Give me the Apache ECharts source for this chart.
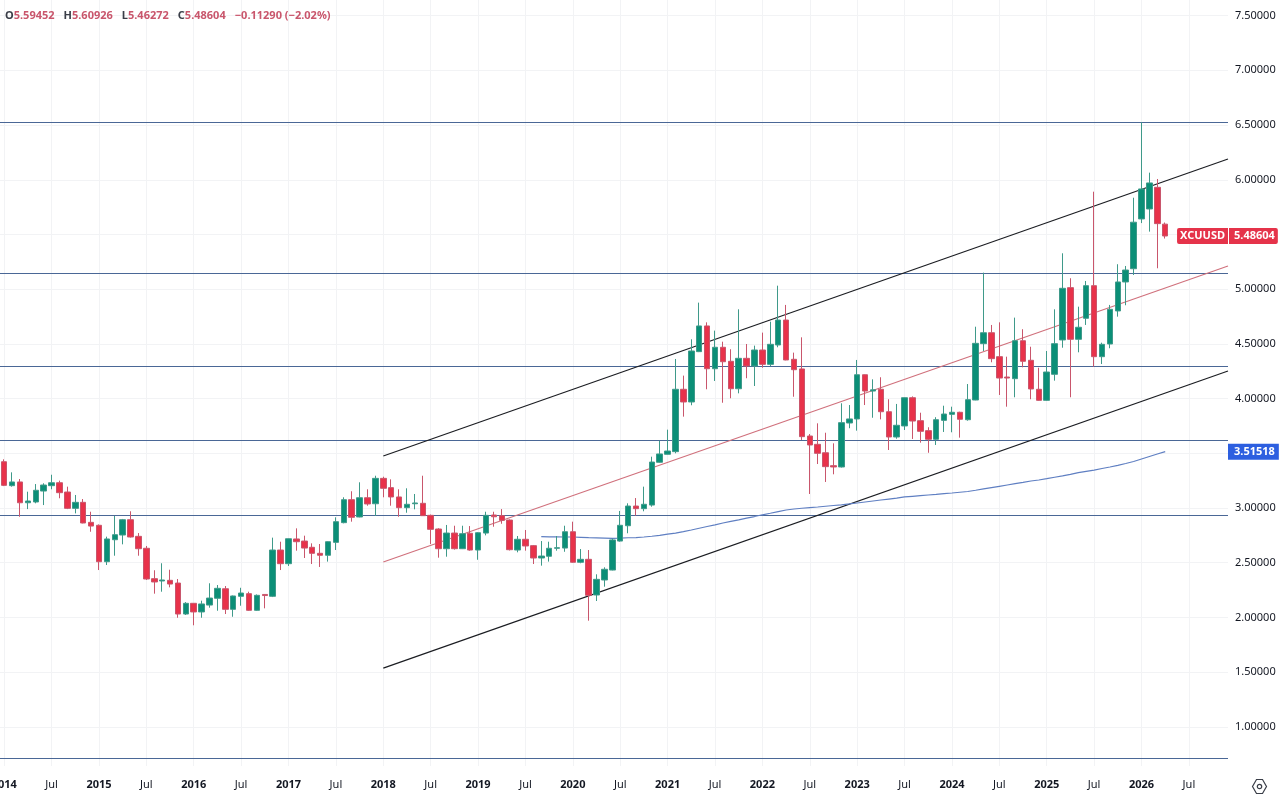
<!DOCTYPE html>
<html lang="en">
<head>
    <meta charset="UTF-8">
    <title>XCUUSD monthly</title>
    <script src="https://cdn.jsdelivr.net/npm/echarts@6/dist/echarts.min.js"></script>
    <style>
        html, body { margin: 0; padding: 0; background: #fff; }
        #chart { width: 1280px; height: 796px; }
    </style>
</head>
<body>
    <div id="chart"></div>

    <script>
        // monthly candles, Jan 2014 .. Apr 2026, one line per year
        const opens = [
            3.423,3.204,3.238,3.048,3.055,3.155,3.204,3.231,3.146,2.997,3.052,2.869,
            2.842,2.509,2.71,2.753,2.893,2.741,2.632,2.354,2.333,2.339,2.314,2.031,
            2.129,2.05,2.113,2.175,2.262,2.074,2.193,2.217,2.065,2.21,2.193,2.616,
            2.491,2.717,2.698,2.641,2.586,2.568,2.686,2.866,3.076,2.918,3.094,3.039,
            3.271,3.186,3.101,3.003,3.039,3.043,2.933,2.808,2.628,2.771,2.628,2.769,
            2.616,2.771,2.936,2.93,2.89,2.616,2.714,2.656,2.543,2.559,2.632,2.634,
            2.783,2.504,2.531,2.205,2.342,2.433,2.698,2.838,3.018,2.994,3.027,3.418,
            3.491,3.515,4.085,3.969,4.429,4.664,4.273,4.469,4.341,4.09,4.368,4.298,
            4.444,4.313,4.49,4.718,4.359,4.271,3.658,3.582,3.505,3.387,3.375,3.777,
            3.814,4.218,4.069,4.085,3.88,3.649,3.75,4.008,3.798,3.707,3.628,3.801,
            3.856,3.875,3.807,3.987,4.502,4.602,4.383,4.197,4.182,4.529,4.35,4.085,
            3.984,4.222,4.536,5.014,4.542,4.734,5.032,4.383,4.499,4.801,5.066,5.187,
            5.642,5.733,5.931,5.59452
        ];
        const closes = [
            3.207,3.238,3.048,3.064,3.162,3.21,3.231,3.14,2.997,3.052,2.863,2.835,
            2.509,2.717,2.756,2.893,2.735,2.628,2.351,2.324,2.342,2.305,2.031,2.129,
            2.05,2.123,2.177,2.266,2.074,2.196,2.223,2.065,2.202,2.2,2.616,2.491,
            2.719,2.692,2.634,2.586,2.568,2.692,2.875,3.076,2.915,3.094,3.037,3.271,
            3.18,3.101,3.003,3.034,3.046,2.93,2.805,2.628,2.771,2.628,2.765,2.616,
            2.774,2.933,2.92,2.887,2.619,2.714,2.653,2.543,2.561,2.632,2.637,2.783,
            2.504,2.531,2.202,2.348,2.44,2.708,2.842,3.018,2.994,3.034,3.42,3.494,
            3.521,4.085,3.969,4.435,4.664,4.273,4.469,4.337,4.09,4.368,4.298,4.444,
            4.313,4.496,4.718,4.353,4.264,3.652,3.576,3.5,3.378,3.375,3.78,3.814,
            4.218,4.069,4.08,3.88,3.649,3.756,4.008,3.795,3.701,3.628,3.807,3.859,
            3.875,3.811,3.99,4.505,4.602,4.365,4.188,4.188,4.529,4.341,4.088,3.984,
            4.243,4.502,5.008,4.542,4.652,5.032,4.383,4.496,4.816,5.066,5.175,5.612,
            5.916,5.971,5.599,5.48604
        ];
        const highs = [
            3.445,3.326,3.265,3.149,3.219,3.226,3.304,3.25,3.195,3.119,3.082,2.966,
            2.85,2.738,2.927,2.9,2.97,2.771,2.653,2.431,2.495,2.436,2.351,2.14,
            2.13,2.153,2.312,2.296,2.287,2.2,2.271,2.235,2.21,2.21,2.729,2.692,
            2.72,2.814,2.747,2.677,2.671,2.695,2.915,3.098,3.153,3.235,3.171,3.295,
            3.286,3.262,3.171,3.18,3.128,3.295,2.94,2.815,2.845,2.838,2.838,2.835,
            2.78,2.966,2.966,2.99,2.896,2.744,2.799,2.662,2.698,2.692,2.744,2.838,
            2.875,2.625,2.616,2.394,2.458,2.72,2.973,3.043,3.091,3.195,3.469,3.615,
            3.716,4.362,4.21,4.542,4.877,4.697,4.621,4.52,4.451,4.816,4.499,4.484,
            4.603,4.703,5.032,4.856,4.42,4.56,3.676,3.774,3.688,3.591,3.957,3.941,
            4.353,4.22,4.176,4.195,3.994,3.951,4.01,4.02,3.871,3.738,3.83,3.935,
            3.926,3.88,4.133,4.657,5.151,4.673,4.697,4.383,4.74,4.634,4.474,4.282,
            4.435,4.816,5.328,5.1,4.84,5.075,5.891,4.511,4.856,5.228,5.212,5.836,
            6.526,6.065,6.007,5.60926
        ];
        const lows = [
            3.2,3.195,2.92,2.99,3.043,3.027,3.171,3.089,2.99,2.951,2.86,2.783,
            2.433,2.479,2.564,2.668,2.73,2.564,2.342,2.217,2.235,2.275,1.997,2.022,
            1.928,1.997,2.089,2.061,2.031,2.006,2.107,2.06,2.06,2.083,2.186,2.433,
            2.47,2.61,2.543,2.488,2.461,2.51,2.616,2.86,2.875,2.915,3.021,2.927,
            3.098,3.021,2.92,2.957,2.988,2.927,2.671,2.546,2.555,2.62,2.625,2.61,
            2.527,2.75,2.829,2.856,2.612,2.595,2.61,2.488,2.473,2.51,2.61,2.6,
            2.5,2.495,1.97,2.15,2.281,2.43,2.692,2.769,2.93,2.97,3.012,3.415,
            3.49,3.5,3.835,3.939,4.425,4.085,4.161,3.962,4.003,4.048,4.186,4.115,
            4.282,4.298,4.469,4.35,4.017,3.622,3.128,3.402,3.238,3.308,3.37,3.729,
            3.707,3.941,3.825,3.81,3.53,3.633,3.713,3.631,3.597,3.505,3.576,3.695,
            3.692,3.643,3.798,3.985,4.435,4.332,4.033,3.926,4.012,4.286,3.994,3.98,
            3.98,4.164,4.465,4.012,4.423,4.673,4.292,4.316,4.46,4.749,4.853,5.13,
            5.604,5.526,5.191,5.46272
        ];

        // moving average, starts at month index 68 (Sep 2019)
        const maStart = 68;
        const maValues = [
            2.738,2.737,2.736,2.735,2.735,2.732,2.729,2.727,2.725,2.723,2.725,2.728,
            2.73,2.735,2.742,2.75,2.761,2.771,2.784,2.799,2.815,2.831,2.846,2.863,
            2.878,2.892,2.907,2.922,2.938,2.952,2.967,2.982,2.991,2.998,3.004,3.009,
            3.016,3.023,3.029,3.037,3.046,3.055,3.064,3.073,3.082,3.091,3.101,3.107,
            3.113,3.119,3.125,3.132,3.137,3.144,3.151,3.162,3.174,3.186,3.198,3.21,
            3.222,3.234,3.247,3.256,3.268,3.281,3.294,3.308,3.323,3.335,3.347,3.361,
            3.375,3.39,3.407,3.425,3.448,3.471,3.494,3.51518
        ];

        // drawn lines
        const levels = [6.528, 5.148, 4.298, 3.622, 2.927, 0.715];
        const channelX = [48, 154.95];
        const upperChannel = [3.475, 6.19];
        const middleChannel = [2.506, 5.212];
        const lowerChannel = [1.537, 4.252];

        // axes
        const monthTicks = [0,6,12,18,24,30,36,42,48,54,60,66,72,78,84,90,96,102,108,114,120,126,132,138,144,150];
        const monthLabels = ['2014','Jul','2015','Jul','2016','Jul','2017','Jul','2018','Jul','2019','Jul','2020','Jul','2021','Jul','2022','Jul','2023','Jul','2024','Jul','2025','Jul','2026','Jul'];
        const priceTicks = [1,1.5,2,2.5,3,3.5,4,4.5,5,5.5,6,6.5,7,7.5];

        const xMin = -0.53;
        const xMax = 154.95;
        const lastClose = 5.48604;
        const lastMa = 3.51518;

        const fontName = '"Noto Sans", sans-serif';
        const upColor = '#0b8f77';
        const downColor = '#e8324a';
        const upWick = '#3f9a8a';
        const downWick = '#c9566c';
        const levelColor = '#4a6796';

        const chart = echarts.init(document.getElementById('chart'));

        const candleData = opens.map((o, i) => [i, o, closes[i], lows[i], highs[i]]);
        const maData = maValues.map((v, i) => [maStart + i, v]);

        function channelSeries(name, values, color, width) {
            return {
                name: name,
                type: 'line',
                z: 2,
                silent: true,
                symbol: 'none',
                lineStyle: { color: color, width: width },
                data: channelX.map((x, i) => [x, values[i]])
            };
        }

        const option = {
            animation: false,
            backgroundColor: '#ffffff',
            title: {
                left: 5,
                top: 7,
                padding: 0,
                text: '{k|O}{v|5.59452} {g|H}{v|5.60926} {g|L}{v|5.46272} {g|C}{v|5.48604} {m|\u22120.11290 (\u22122.02%)}',
                textStyle: {
                    rich: {
                        k: { fontFamily: fontName, fontSize: 11, color: '#3a3e48' },
                        g: { fontFamily: fontName, fontSize: 11, color: '#3a3e48', padding: [0, 0, 0, 4] },
                        v: { fontFamily: fontName, fontSize: 11, color: '#c9566c' },
                        m: { fontFamily: fontName, fontSize: 11, color: '#c9566c', padding: [0, 0, 0, 4] }
                    }
                }
            },
            grid: { left: 0, right: 52, top: 0, bottom: 30, outerBoundsMode: 'none' },
            xAxis: {
                type: 'value',
                min: xMin,
                max: xMax,
                axisLine: { show: false },
                axisTick: { show: false, customValues: monthTicks },
                splitLine: { show: true, lineStyle: { color: '#f2f3f5', width: 1 } },
                axisLabel: {
                    customValues: monthTicks,
                    margin: 13,
                    fontFamily: fontName,
                    fontSize: 11,
                    color: '#131722',
                    formatter: function (value) {
                        const label = monthLabels[monthTicks.indexOf(value)];
                        return label === 'Jul' ? label : '{y|' + label + '}';
                    },
                    rich: { y: { fontFamily: fontName, fontSize: 11, fontWeight: 'bold', color: '#131722' } }
                }
            },
            yAxis: {
                type: 'value',
                position: 'right',
                min: 0.642,
                max: 7.643,
                axisLine: { show: false },
                axisTick: { show: false, customValues: priceTicks },
                splitLine: { show: true, lineStyle: { color: '#f2f3f5', width: 1 } },
                axisLabel: {
                    customValues: priceTicks,
                    margin: 7,
                    fontFamily: fontName,
                    fontSize: 11,
                    color: '#131722',
                    formatter: value => value.toFixed(5)
                }
            },
            series: [
                channelSeries('Upper channel', upperChannel, '#1b1d22', 1.2),
                channelSeries('Middle channel', middleChannel, '#d0707c', 1.1),
                channelSeries('Lower channel', lowerChannel, '#1b1d22', 1.2),
                {
                    name: 'MA',
                    type: 'line',
                    z: 2,
                    silent: true,
                    symbol: 'none',
                    lineStyle: { color: '#5f7fc2', width: 1.2 },
                    data: maData
                },
                {
                    name: 'XCUUSD',
                    type: 'candlestick',
                    z: 3,
                    barWidth: 6,
                    itemStyle: {
                        color: upColor,
                        color0: downColor,
                        borderColor: upWick,
                        borderColor0: downWick,
                        borderWidth: 1
                    },
                    data: candleData,
                    markLine: {
                        silent: true,
                        z: 1,
                        symbol: 'none',
                        label: { show: false },
                        lineStyle: { color: levelColor, width: 1.2, type: 'solid' },
                        data: levels.map(v => ({ yAxis: v }))
                    }
                },
                {
                    name: 'Price labels',
                    type: 'scatter',
                    z: 5,
                    silent: true,
                    symbolSize: 0,
                    clip: false,
                    itemStyle: { opacity: 1 },
                    data: [
                        {
                            value: [xMax, lastClose],
                            label: {
                                show: true, position: 'left', distance: 0, formatter: 'XCUUSD', opacity: 1,
                                backgroundColor: '#e5334a', color: '#fff', fontFamily: fontName, fontSize: 11, fontWeight: 'bold',
                                padding: [3, 3, 2, 3], borderRadius: [2, 0, 0, 2]
                            }
                        },
                        {
                            value: [xMax, lastClose],
                            label: {
                                show: true, position: 'right', distance: 1, formatter: lastClose.toFixed(5), opacity: 1,
                                backgroundColor: '#e5334a', color: '#fff', fontFamily: fontName, fontSize: 11, fontWeight: 'bold',
                                padding: [3, 3, 2, 5], borderRadius: [0, 2, 2, 0]
                            }
                        },
                        {
                            value: [xMax, lastMa],
                            label: {
                                show: true, position: 'right', distance: 0, formatter: lastMa.toFixed(5), opacity: 1,
                                backgroundColor: '#2d5fe0', color: '#fff', fontFamily: fontName, fontSize: 11, fontWeight: 'bold',
                                padding: [3, 4, 2, 6]
                            }
                        }
                    ]
                }
            ],
            graphic: [
                {
                    // settings icon, bottom right
                    type: 'group',
                    left: 1250,
                    top: 777,
                    children: [
                        {
                            type: 'polygon',
                            shape: { points: [[4, 0], [10, 0], [14, 7], [10, 14], [4, 14], [0, 7]] },
                            style: { fill: 'none', stroke: '#3a3e48', lineWidth: 1.2 }
                        },
                        {
                            type: 'circle',
                            shape: { cx: 7, cy: 7, r: 2.2 },
                            style: { fill: 'none', stroke: '#3a3e48', lineWidth: 1.2 }
                        }
                    ]
                }
            ]
        };

        chart.setOption(option);
    </script>
</body>
</html>
